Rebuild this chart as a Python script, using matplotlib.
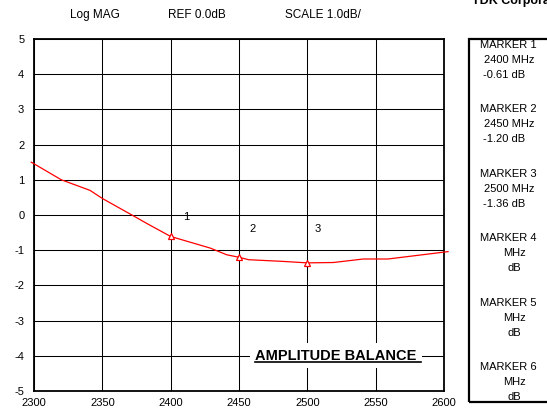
import numpy as np
import matplotlib.pyplot as plt
import matplotlib.patches as patches

plt.rcParams['font.family'] = ['Liberation Sans', 'DejaVu Sans']
plt.rcParams['axes.unicode_minus'] = False

# pomiar balansu amplitudy
freq = [2298, 2320, 2341, 2350, 2373, 2383, 2400, 2429, 2441, 2450, 2457,
        2483, 2500, 2519, 2541, 2559, 2603]
amp = [1.50, 1.00, 0.70, 0.47, -0.03, -0.25, -0.61, -0.94, -1.13, -1.20, -1.27,
       -1.32, -1.36, -1.35, -1.25, -1.25, -1.04]

marker_freq = [2400, 2450, 2500]
marker_amp = [-0.61, -1.20, -1.36]
marker_names = ['1', '2', '3']
marker_label_freq = [2409, 2457.5, 2505.5]
marker_label_amp = [-0.07, -0.39, -0.39]

xticks = [2300, 2350, 2400, 2450, 2500, 2550, 2600]
yticks = [-5, -4, -3, -2, -1, 0, 1, 2, 3, 4, 5]

W, H = 547, 416


def fx(px):
    return px / W


def fy(py):
    return 1 - py / H


fig = plt.figure(figsize=(W / 100, H / 100), dpi=100)
ax = fig.add_axes([fx(34), fy(391), fx(444) - fx(34), fy(39) - fy(391)])

ax.plot(freq, amp, color='red', lw=0.9, clip_on=False, zorder=3)
ax.plot(marker_freq, marker_amp, '^', ms=5, mfc='white', mec='red', mew=0.9, zorder=4)
for name, lx, ly in zip(marker_names, marker_label_freq, marker_label_amp):
    ax.text(lx, ly, name, fontsize=8, ha='left', va='center')

ax.set_xlim(2300, 2600)
ax.set_ylim(-5, 5)
ax.set_xticks(xticks)
ax.set_yticks(yticks)
ax.tick_params(length=0, labelsize=8)
ax.tick_params(axis='y', pad=7)
ax.tick_params(axis='x', pad=5)
ax.grid(True, color='black', lw=0.75)
for s in ax.spines.values():
    s.set_linewidth(1.3)

ax.text(2462, -4, 'AMPLITUDE BALANCE', fontsize=10.5, fontweight='bold',
        ha='left', va='center', zorder=5,
        bbox=dict(facecolor='white', edgecolor='none', pad=4))
ax.plot([2462, 2583], [-4.17, -4.17], color='black', lw=1.2, zorder=6)

# nagłówek
fig.text(fx(95), fy(15), 'Log MAG', fontsize=8.5, ha='center', va='center')
fig.text(fx(197), fy(15), 'REF 0.0dB', fontsize=8.5, ha='center', va='center')
fig.text(fx(323), fy(15), 'SCALE 1.0dB/', fontsize=8.5, ha='center', va='center')
fig.text(fx(472), fy(1), 'TDK Corporation', fontsize=9, fontweight='bold',
         ha='left', va='center')

# ramka z markerami
box = patches.Rectangle((fx(469), fy(402)), fx(600) - fx(469), fy(39) - fy(402),
                        transform=fig.transFigure, fill=False, ec='black', lw=1.6)
fig.patches.append(box)

marker_rows = [('2400', '-0.61'), ('2450', '-1.20'), ('2500', '-1.36'),
               ('', ''), ('', ''), ('', '')]
for i, (f, a) in enumerate(marker_rows):
    y0 = 45 + i * 64.4
    fig.text(fx(480), fy(y0), f'MARKER {i + 1}', fontsize=8, va='center')
    if f:
        fig.text(fx(484), fy(y0 + 15), f'{f} MHz', fontsize=8, va='center')
        fig.text(fx(483), fy(y0 + 30), f'{a} dB', fontsize=8, va='center')
    else:
        fig.text(fx(503), fy(y0 + 15), 'MHz', fontsize=8, va='center')
        fig.text(fx(508), fy(y0 + 30), 'dB', fontsize=8, va='center')

fig.savefig('out.png', dpi=100)
